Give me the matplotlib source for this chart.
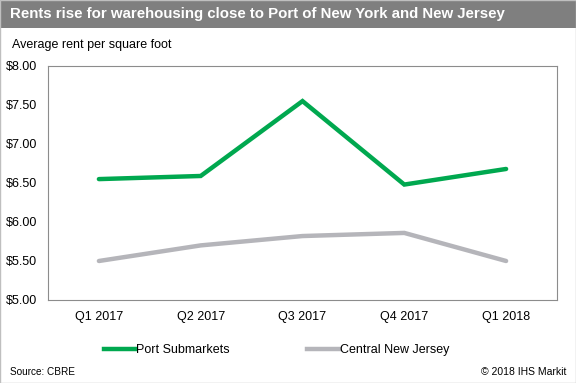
import matplotlib
matplotlib.use("Agg")
import matplotlib.pyplot as plt
from matplotlib.patches import Rectangle
from matplotlib.lines import Line2D

plt.rcParams['font.family'] = ['Liberation Sans', 'DejaVu Sans']

quarters = ["Q1 2017", "Q2 2017", "Q3 2017", "Q4 2017", "Q1 2018"]
port = [6.55, 6.59, 7.55, 6.48, 6.68]
central = [5.50, 5.70, 5.82, 5.86, 5.50]
yticks = [5.0, 5.5, 6.0, 6.5, 7.0, 7.5, 8.0]

green = "#00A84F"
grey = "#B5B5BA"

W, H = 576, 383
fig = plt.figure(figsize=(W / 100, H / 100), dpi=100)

# title bar
fig.patches.append(Rectangle((0, 1 - 28 / H), 1, 28 / H, transform=fig.transFigure,
                             facecolor="#7F7F7F", edgecolor="none", zorder=0))
fig.text(10 / W, 1 - 14 / H, "Rents rise for warehousing close to Port of New York and New Jersey",
         color="white", fontsize=10.8, fontweight="bold", va="center", ha="left")
# outer border
fig.patches.append(Rectangle((0, 0), 1, 1, transform=fig.transFigure, fill=False,
                             edgecolor="#BFBFBF", linewidth=1))

fig.text(12 / W, 1 - 45 / H, "Average rent per square foot", fontsize=9, va="center")

ax = fig.add_axes([48 / W, 1 - 300 / H, (557 - 48) / W, (300 - 66) / H])
x = range(len(quarters))
ax.plot(x, port, color=green, linewidth=3.2, solid_capstyle="round", solid_joinstyle="miter")
ax.plot(x, central, color=grey, linewidth=3.2, solid_capstyle="round", solid_joinstyle="miter")
ax.set_xlim(-0.5, len(quarters) - 0.5)
ax.set_ylim(5, 8)
ax.set_yticks(yticks)
ax.set_yticklabels(["${:.2f}".format(v) for v in yticks])
ax.set_xticks(list(x))
ax.set_xticklabels(quarters)
ax.tick_params(length=0, labelsize=9, pad=8)
for s in ax.spines.values():
    s.set_color("#8C8C8C")
    s.set_linewidth(0.8)

handles = [Line2D([], [], color=green, linewidth=3.2),
           Line2D([], [], color=grey, linewidth=3.2)]
fig.legend(handles, ["Port Submarkets", "Central New Jersey"], loc="center",
           bbox_to_anchor=(0.48, 1 - 350 / H), ncol=2, frameon=False, fontsize=9,
           handlelength=2.5, handletextpad=0.1, columnspacing=6.2)

fig.text(10 / W, 1 - 372 / H, "Source: CBRE", fontsize=7.2, va="center")
fig.text(566 / W, 1 - 372 / H, "\u00a9 2018 IHS Markit", fontsize=7.5, va="center", ha="right")

fig.savefig("out.png", dpi=100)
